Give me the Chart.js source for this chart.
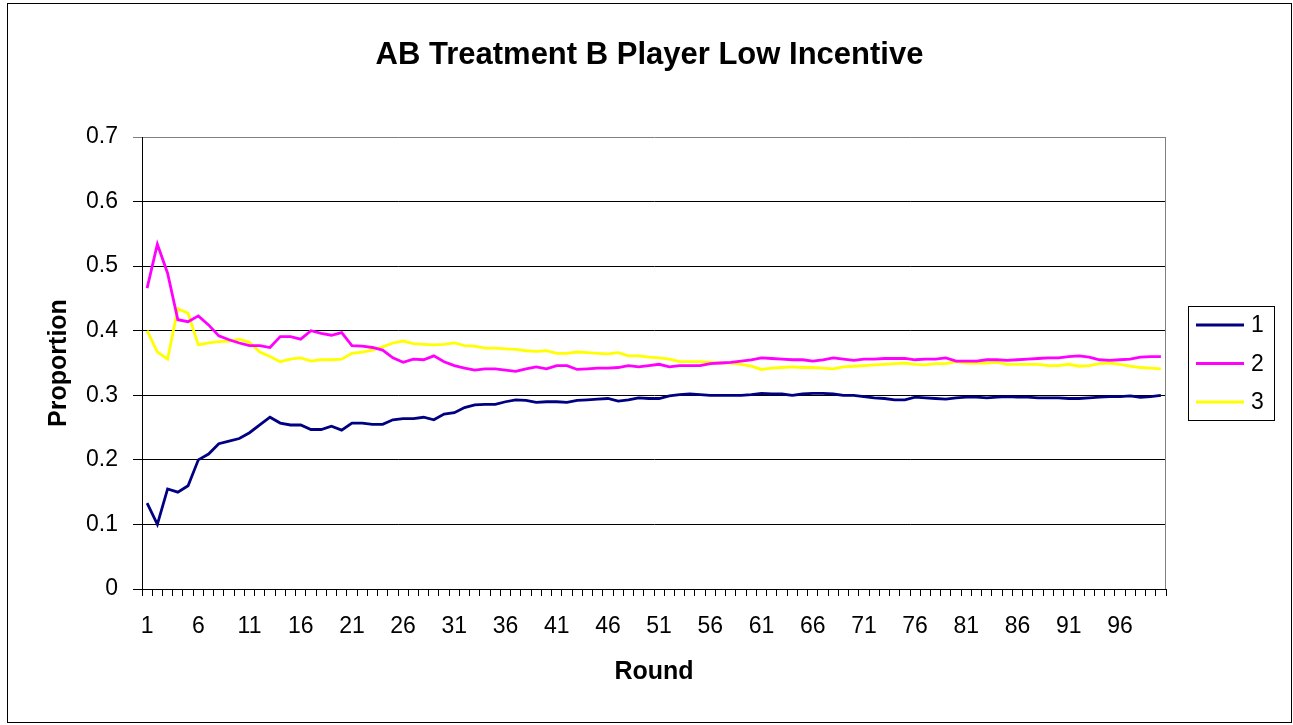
<!DOCTYPE html>
<html>
<head>
<meta charset="utf-8">
<script src="https://cdn.jsdelivr.net/npm/chart.js@4.4.0/dist/chart.umd.min.js"></script>
<style>
  html, body { margin: 0; padding: 0; background: #fff; }
  #wrap { width: 1293px; height: 725px; position: relative; }
</style>
</head>
<body>
<div id="wrap"><canvas id="c" width="1293" height="725"></canvas></div>
<script>
const rounds = Array.from({length: 100}, (_, i) => String(i + 1));

const series1 = [
  0.133, 0.100, 0.155, 0.150, 0.160, 0.200, 0.209, 0.225, 0.229, 0.233,
  0.242, 0.254, 0.266, 0.257, 0.254, 0.254, 0.247, 0.247, 0.252, 0.246,
  0.257, 0.257, 0.255, 0.255, 0.262, 0.264, 0.264, 0.266, 0.262, 0.271,
  0.273, 0.281, 0.285, 0.286, 0.286, 0.290, 0.293, 0.292, 0.289, 0.290,
  0.290, 0.289, 0.292, 0.293, 0.294, 0.295, 0.291, 0.293, 0.296, 0.295,
  0.295, 0.299, 0.301, 0.302, 0.301, 0.300, 0.300, 0.300, 0.300, 0.301,
  0.303, 0.302, 0.302, 0.300, 0.302, 0.303, 0.303, 0.302, 0.300, 0.300,
  0.298, 0.296, 0.295, 0.293, 0.293, 0.297, 0.296, 0.295, 0.294, 0.296,
  0.297, 0.297, 0.296, 0.297, 0.298, 0.297, 0.297, 0.296, 0.296, 0.296,
  0.295, 0.295, 0.296, 0.297, 0.298, 0.298, 0.299, 0.297, 0.298, 0.300
];

const series2 = [
  0.466, 0.534, 0.489, 0.417, 0.414, 0.423, 0.409, 0.392, 0.386, 0.381,
  0.377, 0.377, 0.374, 0.391, 0.391, 0.387, 0.400, 0.396, 0.393, 0.397,
  0.377, 0.376, 0.374, 0.370, 0.358, 0.351, 0.356, 0.355, 0.361, 0.352,
  0.346, 0.342, 0.339, 0.341, 0.341, 0.339, 0.337, 0.341, 0.344, 0.341,
  0.346, 0.346, 0.340, 0.341, 0.342, 0.342, 0.343, 0.346, 0.344, 0.346,
  0.348, 0.344, 0.346, 0.346, 0.346, 0.349, 0.350, 0.351, 0.353, 0.355,
  0.358, 0.357, 0.356, 0.355, 0.355, 0.353, 0.355, 0.358, 0.356, 0.354,
  0.356, 0.356, 0.357, 0.357, 0.357, 0.355, 0.356, 0.356, 0.358, 0.353,
  0.353, 0.353, 0.355, 0.355, 0.354, 0.355, 0.356, 0.357, 0.358, 0.358,
  0.360, 0.361, 0.359, 0.355, 0.354, 0.355, 0.356, 0.359, 0.360, 0.360
];

const series3 = [
  0.400, 0.367, 0.356, 0.434, 0.427, 0.378, 0.381, 0.383, 0.384, 0.387,
  0.382, 0.367, 0.360, 0.352, 0.356, 0.358, 0.353, 0.355, 0.355, 0.356,
  0.365, 0.367, 0.370, 0.375, 0.381, 0.384, 0.380, 0.379, 0.378, 0.379,
  0.381, 0.377, 0.376, 0.373, 0.373, 0.372, 0.371, 0.369, 0.368, 0.369,
  0.365, 0.365, 0.367, 0.366, 0.365, 0.364, 0.366, 0.361, 0.361, 0.359,
  0.358, 0.356, 0.352, 0.352, 0.352, 0.351, 0.350, 0.350, 0.348, 0.345,
  0.340, 0.342, 0.343, 0.344, 0.343, 0.343, 0.342, 0.341, 0.344, 0.345,
  0.346, 0.347, 0.348, 0.349, 0.350, 0.348, 0.347, 0.349, 0.349, 0.352,
  0.350, 0.350, 0.350, 0.351, 0.348, 0.348, 0.348, 0.348, 0.346, 0.346,
  0.348, 0.345, 0.346, 0.349, 0.350, 0.348, 0.345, 0.343, 0.342, 0.341
];

const seriesNames = ['1', '2', '3'];
const seriesColors = ['#000080', '#FF00FF', '#FFFF00'];
const yTicks = [0, 0.1, 0.2, 0.3, 0.4, 0.5, 0.6, 0.7];
const chartTitle = 'AB Treatment B Player Low Incentive';
const xTitle = 'Round';
const yTitle = 'Proportion';

const FONT = '"Liberation Sans", Arial, Helvetica, sans-serif';

const framePlugin = {
  id: 'frame',
  beforeDraw(chart) {
    const ctx = chart.ctx;
    ctx.save();
    ctx.fillStyle = '#fff';
    ctx.fillRect(0, 0, chart.width, chart.height);
    ctx.strokeStyle = '#000';
    ctx.lineWidth = 1;
    ctx.strokeRect(7.5, 3.5, 1284, 719);
    // title
    ctx.fillStyle = '#000';
    ctx.font = 'bold 31px ' + FONT;
    ctx.textAlign = 'center';
    ctx.textBaseline = 'alphabetic';
    ctx.fillText(chartTitle, 649.5, 64);
    ctx.restore();
  },
  beforeDatasetsDraw(chart) {
    const {ctx, chartArea: a} = chart;
    ctx.save();
    ctx.strokeStyle = '#808080';
    ctx.lineWidth = 1;
    ctx.beginPath();
    ctx.moveTo(Math.round(a.right) - 0.5, Math.round(a.top) + 0.5);
    ctx.lineTo(Math.round(a.right) - 0.5, Math.round(a.bottom));
    ctx.stroke();
    ctx.restore();
  },
  afterDraw(chart) {
    const ctx = chart.ctx;
    ctx.save();
    const bx = 1188, by = 306, bw = 86, bh = 114;
    ctx.fillStyle = '#fff';
    ctx.fillRect(bx, by, bw, bh);
    ctx.strokeStyle = '#000';
    ctx.lineWidth = 1;
    ctx.strokeRect(bx + 0.5, by + 0.5, bw, bh);
    const ys = [325, 363.5, 402];
    chart.data.datasets.forEach((ds, i) => {
      ctx.strokeStyle = ds.borderColor;
      ctx.lineWidth = 2.8;
      ctx.beginPath();
      ctx.moveTo(1196, ys[i]);
      ctx.lineTo(1244, ys[i]);
      ctx.stroke();
      ctx.fillStyle = '#000';
      ctx.font = '23px ' + FONT;
      ctx.textAlign = 'left';
      ctx.textBaseline = 'middle';
      ctx.fillText(ds.label, 1251, ys[i] + 1);
    });
    ctx.restore();
  }
};

new Chart(document.getElementById('c'), {
  type: 'line',
  data: {
    labels: rounds,
    datasets: [
      { label: seriesNames[0], data: series1, borderColor: seriesColors[0], backgroundColor: seriesColors[0] },
      { label: seriesNames[1], data: series2, borderColor: seriesColors[1], backgroundColor: seriesColors[1] },
      { label: seriesNames[2], data: series3, borderColor: seriesColors[2], backgroundColor: seriesColors[2] }
    ]
  },
  options: {
    responsive: false,
    animation: false,
    devicePixelRatio: 1,
    layout: { padding: { top: 137, right: 127, left: 0, bottom: 0 } },
    elements: {
      line: { borderWidth: 2.8, tension: 0, fill: false },
      point: { radius: 0, hoverRadius: 0 }
    },
    plugins: {
      legend: { display: false },
      title: { display: false },
      tooltip: { enabled: false }
    },
    scales: {
      x: {
        type: 'category',
        offset: true,
        grid: {
          display: true,
          drawOnChartArea: false,
          drawTicks: true,
          tickLength: 7,
          offset: true,
          color: '#000'
        },
        border: { display: true, color: '#000', width: 1 },
        ticks: {
          autoSkip: false,
          maxRotation: 0,
          minRotation: 0,
          padding: 17,
          color: '#000',
          font: { family: FONT, size: 23 },
          callback: (v, i) => (i % 5 === 0 ? rounds[i] : '')
        },
        title: {
          display: true,
          text: xTitle,
          color: '#000',
          font: { family: FONT, size: 25, weight: 'bold' },
          padding: { top: 0, bottom: 38 }
        },
        afterFit: (s) => { s.height = 136; }
      },
      y: {
        type: 'linear',
        min: 0,
        max: 0.7,
        afterBuildTicks: (s) => { s.ticks = yTicks.map(v => ({ value: v })); },
        grid: {
          drawTicks: true,
          tickLength: 9,
          color: (c) => (c.tick && Math.abs(c.tick.value - 0.7) < 1e-9 ? '#808080' : '#000')
        },
        border: { display: true, color: '#000', width: 1 },
        ticks: {
          padding: 15,
          color: '#000',
          font: { family: FONT, size: 23 },
          callback: (v) => String(Number(v.toFixed(1)))
        },
        title: {
          display: true,
          text: yTitle,
          color: '#000',
          font: { family: FONT, size: 25, weight: 'bold' },
          padding: { top: 44, bottom: 0 }
        },
        afterFit: (s) => { s.width = 142; }
      }
    }
  },
  plugins: [framePlugin]
});
</script>
</body>
</html>
